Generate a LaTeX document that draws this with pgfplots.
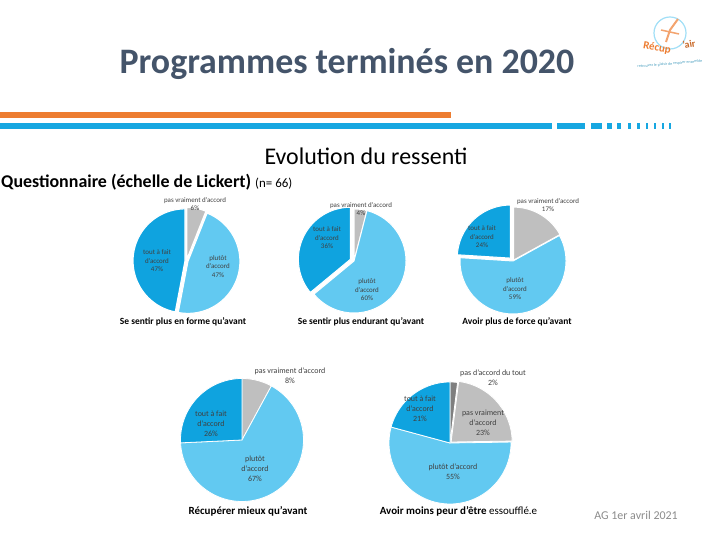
\documentclass[border=0pt]{standalone}
\usepackage{pgfplots}
\pgfplotsset{compat=1.18}
\usepackage{fontspec}
\setmainfont{Carlito}
\definecolor{darkb}{HTML}{0FA3DF}
\definecolor{lightb}{HTML}{62C9F1}
\definecolor{greyc}{HTML}{BFBFBF}
\definecolor{dgrey}{HTML}{7F7F7F}
\definecolor{titlec}{HTML}{44546A}
\definecolor{orangebar}{HTML}{ED7D31}
\definecolor{bluebar}{HTML}{17A7E1}
\definecolor{lblc}{HTML}{404040}
\pgfplotsset{pieax/.style={hide axis, scale only axis, xmin=-1,xmax=1,ymin=-1,ymax=1,
  anchor=center, clip=false, width=#1, height=#1}}
% #1 cumulative start, #2 value, #3 total, #4 colour, #5 explode, #6 border width
\newcommand\slice[6]{%
 \addplot[fill=#4, draw=white, line width=#6, samples=90,
   domain=90-(#1+#2)/#3*360:90-(#1)/#3*360,
   xshift={#5*cos(90-(#1+#2/2)/#3*360)}, yshift={#5*sin(90-(#1+#2/2)/#3*360)}]
   ({cos(x)},{sin(x)}) -- (axis cs:0,0) -- cycle;
}
\tikzset{lbl/.style={align=center, inner sep=0, text=lblc, font=\fontsize{7}{8.6}\selectfont},
         lblb/.style={align=center, inner sep=0, text=lblc, font=\fontsize{8}{10}\selectfont},
         capt/.style={inner sep=0, font=\bfseries\fontsize{9.5}{11}\selectfont},
         captb/.style={inner sep=0, font=\bfseries\fontsize{11}{12}\selectfont}}
\begin{document}
\begin{tikzpicture}[x=1bp,y=1bp]
\path[use as bounding box] (0,0) rectangle (720,540);
\fill[white] (0,0) rectangle (720,540);
% title
\node[anchor=base, text=titlec, font=\bfseries\fontsize{36}{40}\selectfont, inner sep=0] at (347,466) {Programmes terminés en 2020};
% bars
\fill[orangebar] (0,422) rectangle (451,427.5);
\fill[bluebar] (0,411) rectangle (552,416.5);
\foreach \a/\b in {556.7/585, 590.7/601.7, 606.7/612, 616.7/621, 628.3/630.5, 637/639.5, 645.5/648, 653.5/656, 661.5/664, 668.5/671}
  \fill[bluebar] (\a,411) rectangle (\b,416.5);
% logo
\draw[lightb!60, line width=1.2pt] (670,507) circle (16);
\draw[orangebar!70, line width=2pt] (666,498) -- (670,510) -- (678,521);
\draw[orangebar!70, line width=1.5pt] (661,510) -- (679,506);
\node[rotate=-10, text=orangebar, font=\bfseries\fontsize{11}{11}\selectfont, inner sep=0] at (657,492) {Récup};
\node[rotate=10, text=orangebar!85!black, font=\bfseries\fontsize{10}{10}\selectfont, inner sep=0] at (689,496) {'air};
\node[rotate=5, text=lightb!80!black, font=\fontsize{4}{4}\selectfont, inner sep=0] at (670,476) {retrouvez le plaisir de respirer ensemble};
% headings
\node[anchor=base, font=\fontsize{24}{28}\selectfont, inner sep=0] at (366,375) {Evolution du ressenti};
\node[anchor=base west, font=\fontsize{18}{20}\selectfont, inner sep=0] at (1,352) {\textbf{Questionnaire (échelle de Lickert)} {\fontsize{13}{14}\selectfont(n= 66)}};

% ---------- pie 1 ----------
\begin{axis}[pieax=104bp, at={(186.5bp,279bp)}]
 \slice{0}{6}{100}{greyc}{1.5}{1.2pt}
 \slice{6}{47}{100}{lightb}{1.5}{1.2pt}
 \slice{53}{47}{100}{darkb}{1.5}{1.2pt}
\end{axis}
% ---------- pie 2 ----------
\begin{axis}[pieax=104bp, at={(354bp,279bp)}]
 \slice{0}{4}{100}{greyc}{0}{1pt}
 \slice{4}{60}{100}{lightb}{0}{1pt}
 \slice{64}{36}{100}{darkb}{4}{1pt}
\end{axis}
% ---------- pie 3 ----------
\begin{axis}[pieax=106bp, at={(513bp,279bp)}]
 \slice{0}{17}{100}{greyc}{1}{1pt}
 \slice{17}{59}{100}{lightb}{0}{1pt}
 \slice{76}{24}{100}{darkb}{4}{1pt}
\end{axis}
% ---------- pie 4 ----------
\begin{axis}[pieax=123bp, at={(242bp,100bp)}]
 \slice{0}{8}{101}{greyc}{0}{0.8pt}
 \slice{8}{67}{101}{lightb}{0}{0.8pt}
 \slice{75}{26}{101}{darkb}{0}{0.8pt}
\end{axis}
% ---------- pie 5 ----------
\begin{axis}[pieax=122bp, at={(450bp,97bp)}]
 \slice{0}{2}{101}{dgrey}{0}{0.8pt}
 \slice{2}{23}{101}{greyc}{1.5}{0.8pt}
 \slice{25}{55}{101}{lightb}{0}{0.8pt}
 \slice{80}{21}{101}{darkb}{0}{0.8pt}
\end{axis}

% pie labels
\node[lbl] at (195,336) {pas vraiment d'accord\\6\%};
\node[lbl] at (157,279) {tout à fait\\d'accord\\47\%};
\node[lbl] at (218,273.5) {plutôt\\d'accord\\47\%};
\node[lbl] at (361,331) {pas vraiment d'accord\\4\%};
\node[lbl] at (327,302) {tout à fait\\d'accord\\36\%};
\node[lbl] at (367,250) {plutôt\\d'accord\\60\%};
\node[lbl] at (548,335) {pas vraiment d'accord\\17\%};
\node[lbl] at (482,303) {tout à fait\\d'accord\\24\%};
\node[lbl] at (515,251) {plutôt\\d'accord\\59\%};
\node[lblb] at (290,164) {pas vraiment d'accord\\8\%};
\node[lblb] at (211,116) {tout à fait\\d'accord\\26\%};
\node[lblb] at (255,71) {plutôt\\d'accord\\67\%};
\node[lblb] at (493,162) {pas d'accord du tout\\2\%};
\node[lblb] at (420,131) {tout à fait\\d'accord\\21\%};
\node[lblb] at (483,117.5) {pas vraiment\\d'accord\\23\%};
\node[lblb] at (453,68) {plutôt d'accord\\55\%};
% captions
\node[capt] at (183,218) {Se sentir plus en forme qu'avant};
\node[capt] at (361,218) {Se sentir plus endurant qu'avant};
\node[capt] at (517,218) {Avoir plus de force qu'avant};
\node[captb] at (248,29) {Récupérer mieux qu'avant};
\node[captb] at (458.5,29) {Avoir moins peur d'être \mdseries essoufflé.e};
% footer
\node[text=black!45, font=\fontsize{12}{14}\selectfont, inner sep=0] at (636,25) {AG 1er avril 2021};
\end{tikzpicture}
\end{document}
